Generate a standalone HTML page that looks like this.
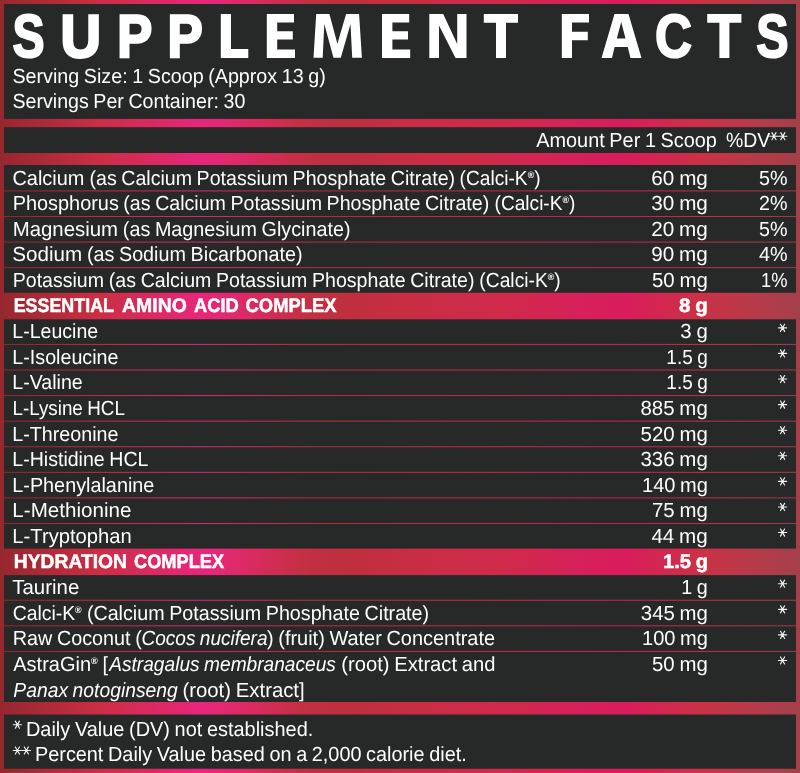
<!DOCTYPE html><html><head><meta charset="utf-8"><title>Supplement Facts</title><style>

html,body{margin:0;padding:0;}
body{width:800px;height:773px;overflow:hidden;background:#272929;position:relative;font-family:"Liberation Sans", sans-serif;color:#fff;}
.t{position:absolute;white-space:nowrap;line-height:1;transform-origin:0 0;word-spacing:-0.9px;text-rendering:geometricPrecision;}
.b{font-weight:bold;}
.reg{font-size:0.46em;font-weight:bold;position:relative;top:-0.72em;}
svg{position:absolute;left:0;top:0;}
#txt{position:absolute;left:0;top:0;width:800px;height:773px;will-change:transform;}

</style></head><body>
<svg width="800" height="773" viewBox="0 0 800 773"><defs><linearGradient id="g" x1="0" y1="0" x2="1" y2="0"><stop offset="0%" stop-color="#96272e"/><stop offset="5%" stop-color="#aa2a36"/><stop offset="12.5%" stop-color="#cc2e45"/><stop offset="25%" stop-color="#e8267b"/><stop offset="28%" stop-color="#e22972"/><stop offset="31%" stop-color="#db2a64"/><stop offset="34%" stop-color="#d22c56"/><stop offset="37%" stop-color="#c72f47"/><stop offset="39.5%" stop-color="#c03040"/><stop offset="44%" stop-color="#bf2f3e"/><stop offset="50%" stop-color="#c72e42"/><stop offset="62.5%" stop-color="#cf2a4a"/><stop offset="72%" stop-color="#d6215a"/><stop offset="78%" stop-color="#da1c5c"/><stop offset="87.5%" stop-color="#cb3145"/><stop offset="94%" stop-color="#b83a49"/><stop offset="100%" stop-color="#a3404a"/></linearGradient></defs>
<rect x="0" y="0" width="800" height="773" fill="url(#g)"/>
<rect x="4" y="4.00" width="792" height="114.90" fill="#272929"/>
<rect x="4" y="127.20" width="792" height="25.80" fill="#272929"/>
<rect x="4" y="165.00" width="792" height="25.43" fill="#272929"/>
<rect x="4" y="191.38" width="792" height="24.63" fill="#272929"/>
<rect x="4" y="216.96" width="792" height="24.63" fill="#272929"/>
<rect x="4" y="242.54" width="792" height="24.63" fill="#272929"/>
<rect x="4" y="268.13" width="792" height="24.63" fill="#272929"/>
<rect x="4" y="319.30" width="792" height="24.63" fill="#272929"/>
<rect x="4" y="344.88" width="792" height="24.63" fill="#272929"/>
<rect x="4" y="370.46" width="792" height="24.63" fill="#272929"/>
<rect x="4" y="396.05" width="792" height="24.63" fill="#272929"/>
<rect x="4" y="421.63" width="792" height="24.63" fill="#272929"/>
<rect x="4" y="447.22" width="792" height="24.63" fill="#272929"/>
<rect x="4" y="472.80" width="792" height="24.63" fill="#272929"/>
<rect x="4" y="498.38" width="792" height="24.63" fill="#272929"/>
<rect x="4" y="523.97" width="792" height="24.63" fill="#272929"/>
<rect x="4" y="575.13" width="792" height="24.63" fill="#272929"/>
<rect x="4" y="600.72" width="792" height="24.63" fill="#272929"/>
<rect x="4" y="626.30" width="792" height="24.63" fill="#272929"/>
<rect x="4" y="651.89" width="792" height="50.11" fill="#272929"/>
<rect x="4" y="714.50" width="792" height="54.20" fill="#272929"/>
<path d="M220.8 14H231V49H248.3V58H220.8ZM266.8 14H294.0V22.5H277.2V31.3H292.8V39.5H277.2V49.5H295.0V58H266.8ZM382.0 14H409.2V22.5H392.4V31.3H408.0V39.5H392.4V49.5H410.2V58H382.0ZM316.2 14.1H329.4L337.4 43.8L346.1 14.1H359.1L361.9 57.8H352.2L350.5 23.9L340.8 57.8H333.5L324.3 23.9L322.7 57.8H313.5ZM429.3 14H443.2L457.2 44V14H466.5V58H455.5L439 25.5V58H429.3ZM483.8 14H518.0V22.8H506.0V58H496.0V22.8H483.8ZM707.2 14H741.4000000000001V22.8H729.4000000000001V58H719.4000000000001V22.8H707.2ZM561.8 14H589V22.5H572V31.8H587.8V40.2H572V58H561.8ZM614.5 14H628.5L641.5 58H630.5L627.7 47H614.6L612 58H601.5ZM616.8 38.5H625.5L621.2 22Z" fill="#fff" fill-rule="evenodd"/>
<path d="M769.90 136.20h8.2M771.95 132.65l4.1 7.1M776.05 132.65l-4.1 7.1M778.70 136.20h8.2M780.75 132.65l4.1 7.1M784.85 132.65l-4.1 7.1M778.45 327.86h8.2M780.50 324.31l4.1 7.1M784.60 324.31l-4.1 7.1M778.45 353.44h8.2M780.50 349.89l4.1 7.1M784.60 349.89l-4.1 7.1M778.45 379.03h8.2M780.50 375.48l4.1 7.1M784.60 375.48l-4.1 7.1M778.45 404.62h8.2M780.50 401.06l4.1 7.1M784.60 401.06l-4.1 7.1M778.45 430.20h8.2M780.50 426.65l4.1 7.1M784.60 426.65l-4.1 7.1M778.45 455.79h8.2M780.50 452.24l4.1 7.1M784.60 452.24l-4.1 7.1M778.45 481.37h8.2M780.50 477.82l4.1 7.1M784.60 477.82l-4.1 7.1M778.45 506.95h8.2M780.50 503.40l4.1 7.1M784.60 503.40l-4.1 7.1M778.45 532.54h8.2M780.50 528.99l4.1 7.1M784.60 528.99l-4.1 7.1M778.45 583.71h8.2M780.50 580.16l4.1 7.1M784.60 580.16l-4.1 7.1M778.45 609.30h8.2M780.50 605.75l4.1 7.1M784.60 605.75l-4.1 7.1M778.45 634.88h8.2M780.50 631.33l4.1 7.1M784.60 631.33l-4.1 7.1M778.45 660.47h8.2M780.50 656.92l4.1 7.1M784.60 656.92l-4.1 7.1M13.30 724.70h8.2M15.35 721.15l4.1 7.1M19.45 721.15l-4.1 7.1M13.30 750.50h8.2M15.35 746.95l4.1 7.1M19.45 746.95l-4.1 7.1M22.25 750.50h8.2M24.30 746.95l4.1 7.1M28.40 746.95l-4.1 7.1" stroke="#f4f4f4" stroke-width="1.15" stroke-linecap="round" fill="none"/>
</svg>
<div id="txt">
<div class="t b" style="left:12px;top:6px;font-size:61px;-webkit-text-stroke:2px #fff;transform:translate(0.55px,0.00px) scaleX(0.7886)">S</div>
<div class="t b" style="left:60px;top:6px;font-size:60.2px;-webkit-text-stroke:2.6px #fff;transform:translate(0.52px,0.69px) scaleX(0.9331)">U</div>
<div class="t b" style="left:117px;top:6px;font-size:60.2px;-webkit-text-stroke:2.6px #fff;transform:translate(0.18px,0.69px) scaleX(0.8704)">P</div>
<div class="t b" style="left:167px;top:6px;font-size:60.2px;-webkit-text-stroke:2.6px #fff;transform:translate(0.51px,0.69px) scaleX(0.8758)">P</div>
<div class="t b" style="left:654px;top:6px;font-size:61px;-webkit-text-stroke:2px #fff;transform:translate(0.88px,0.00px) scaleX(0.8386)">C</div>
<div class="t b" style="left:756px;top:6px;font-size:61px;-webkit-text-stroke:2px #fff;transform:translate(0.22px,0.00px) scaleX(0.7940)">S</div>
<div class="t" style="left:12px;top:66px;font-size:20.5px;transform:translate(0.48px,0.60px) scaleX(0.9604)">Serving Size: 1 Scoop (Approx 13 g)</div>
<div class="t" style="left:12px;top:92px;font-size:20.5px;transform:translate(0.48px,0.10px) scaleX(0.9564)">Servings Per Container: 30</div>
<div class="t" style="left:536px;top:130px;font-size:20.5px;transform:translate(0.30px,0.80px) scaleX(0.9684)">Amount Per 1 Scoop</div>
<div class="t" style="left:726px;top:130px;font-size:20.5px;transform:translate(0.04px,0.80px) scaleX(0.9469)">%DV</div>
<div class="t" style="left:12px;top:168px;font-size:20.5px;transform:translate(0.46px,0.65px) scaleX(0.9719)">Calcium</div>
<div class="t" style="left:89px;top:168px;font-size:20.5px;transform:translate(0.48px,0.65px) scaleX(0.9554)">(as Calcium Potassium Phosphate Citrate)</div>
<div class="t" style="left:459px;top:168px;font-size:20.5px;transform:translate(0.57px,0.65px) scaleX(0.9339)">(Calci-K<span class="reg">®</span>)</div>
<div class="t" style="left:12px;top:194px;font-size:20.5px;transform:translate(0.73px,0.24px) scaleX(0.9702)">Phosphorus</div>
<div class="t" style="left:123px;top:194px;font-size:20.5px;transform:translate(0.31px,0.24px) scaleX(0.9562)">(as Calcium Potassium Phosphate Citrate)</div>
<div class="t" style="left:494px;top:194px;font-size:20.5px;transform:translate(0.58px,0.24px) scaleX(0.9313)">(Calci-K<span class="reg">®</span>)</div>
<div class="t" style="left:12px;top:219px;font-size:20.5px;transform:translate(0.65px,0.82px) scaleX(0.9943)">Magnesium</div>
<div class="t" style="left:122px;top:219px;font-size:20.5px;transform:translate(0.83px,0.82px) scaleX(0.9633)">(as Magnesium Glycinate)</div>
<div class="t" style="left:12px;top:245px;font-size:20.5px;transform:translate(0.25px,0.40px) scaleX(1.0041)">Sodium</div>
<div class="t" style="left:86px;top:245px;font-size:20.5px;transform:translate(0.88px,0.40px) scaleX(0.9638)">(as Sodium Bicarbonate)</div>
<div class="t" style="left:12px;top:270px;font-size:20.5px;transform:translate(0.79px,0.99px) scaleX(0.9522)">Potassium</div>
<div class="t" style="left:108px;top:270px;font-size:20.5px;transform:translate(0.84px,0.99px) scaleX(0.9554)">(as Calcium Potassium Phosphate Citrate)</div>
<div class="t" style="left:479px;top:270px;font-size:20.5px;transform:translate(0.35px,0.99px) scaleX(0.9386)">(Calci-K<span class="reg">®</span>)</div>
<div class="t" style="left:12px;top:322px;font-size:20.5px;transform:translate(0.33px,0.16px) scaleX(0.9536)">L-Leucine</div>
<div class="t" style="left:12px;top:347px;font-size:20.5px;transform:translate(0.30px,0.75px) scaleX(0.9608)">L-Isoleucine</div>
<div class="t" style="left:12px;top:373px;font-size:20.5px;transform:translate(0.33px,0.33px) scaleX(0.9546)">L-Valine</div>
<div class="t" style="left:12px;top:398px;font-size:20.5px;transform:translate(0.44px,0.92px) scaleX(0.9175)">L-Lysine HCL</div>
<div class="t" style="left:12px;top:424px;font-size:20.5px;transform:translate(0.30px,0.50px) scaleX(0.9608)">L-Threonine</div>
<div class="t" style="left:12px;top:450px;font-size:20.5px;transform:translate(0.33px,0.09px) scaleX(0.9537)">L-Histidine HCL</div>
<div class="t" style="left:12px;top:475px;font-size:20.5px;transform:translate(0.28px,0.67px) scaleX(0.9661)">L-Phenylalanine</div>
<div class="t" style="left:12px;top:501px;font-size:20.5px;transform:translate(0.33px,0.25px) scaleX(1.0043)">L-Methionine</div>
<div class="t" style="left:12px;top:526px;font-size:20.5px;transform:translate(0.36px,0.84px) scaleX(0.9860)">L-Tryptophan</div>
<div class="t" style="left:12px;top:578px;font-size:20.5px;transform:translate(0.27px,0.01px) scaleX(0.9959)">Taurine</div>
<div class="t" style="left:12px;top:603px;font-size:20.5px;transform:translate(0.63px,0.60px) scaleX(0.9454)">Calci-K<span class="reg">®</span></div>
<div class="t" style="left:86px;top:603px;font-size:20.5px;transform:translate(0.88px,0.60px) scaleX(0.9608)">(Calcium Potassium Phosphate Citrate)</div>
<div class="t" style="left:12px;top:629px;font-size:20.5px;transform:translate(0.72px,0.18px) scaleX(0.9642)">Raw Coconut (</div>
<div class="t" style="left:141px;top:629px;font-size:20.5px;transform:translate(0.45px,0.18px) scaleX(0.9283)"><i>Cocos nucifera</i></div>
<div class="t" style="left:267px;top:629px;font-size:20.5px;transform:translate(0.01px,0.18px) scaleX(0.9717)">) (fruit) Water Concentrate</div>
<div class="t" style="left:13px;top:654px;font-size:20.5px;transform:translate(0.29px,0.76px) scaleX(0.9746)">AstraGin<span class="reg">®</span> [</div>
<div class="t" style="left:109px;top:654px;font-size:20.5px;transform:translate(0.21px,0.76px) scaleX(0.9331)"><i>Astragalus membranaceus</i></div>
<div class="t" style="left:341px;top:654px;font-size:20.5px;transform:translate(0.35px,0.76px) scaleX(0.9839)">(root) Extract and</div>
<div class="t" style="left:13px;top:680px;font-size:20.5px;transform:translate(0.36px,0.90px) scaleX(0.9416)"><i>Panax notoginseng</i></div>
<div class="t" style="left:182px;top:680px;font-size:20.5px;transform:translate(0.47px,0.90px) scaleX(0.9912)">(root) Extract]</div>
<div class="t b" style="left:13px;top:297px;font-size:19.5px;-webkit-text-stroke:0.5px #fff;transform:translate(0.68px,0.04px) scaleX(0.9166)">ESSENTIAL</div>
<div class="t b" style="left:122px;top:297px;font-size:19.5px;-webkit-text-stroke:0.5px #fff;transform:translate(0.11px,0.04px) scaleX(0.9945)">AMINO</div>
<div class="t b" style="left:194px;top:297px;font-size:19.5px;-webkit-text-stroke:0.5px #fff;transform:translate(0.04px,0.04px) scaleX(0.9403)">ACID</div>
<div class="t b" style="left:245px;top:297px;font-size:19.5px;-webkit-text-stroke:0.5px #fff;transform:translate(0.60px,0.04px) scaleX(0.9417)">COMPLEX</div>
<div class="t b" style="left:13px;top:552px;font-size:19.5px;-webkit-text-stroke:0.5px #fff;transform:translate(0.85px,0.94px) scaleX(0.9878)">HYDRATION</div>
<div class="t b" style="left:133px;top:552px;font-size:19.5px;-webkit-text-stroke:0.5px #fff;transform:translate(0.98px,0.94px) scaleX(0.9346)">COMPLEX</div>
<div class="t" style="left:651px;top:168px;font-size:20.5px;transform:translate(0.33px,0.65px) scaleX(1.0080)">60 mg</div>
<div class="t" style="left:651px;top:194px;font-size:20.5px;transform:translate(0.34px,0.24px) scaleX(1.0077)">30 mg</div>
<div class="t" style="left:651px;top:219px;font-size:20.5px;transform:translate(0.26px,0.82px) scaleX(1.0077)">20 mg</div>
<div class="t" style="left:651px;top:245px;font-size:20.5px;transform:translate(0.34px,0.40px) scaleX(1.0065)">90 mg</div>
<div class="t" style="left:651px;top:270px;font-size:20.5px;transform:translate(0.98px,0.99px) scaleX(0.9947)">50 mg</div>
<div class="t" style="left:680px;top:322px;font-size:20.5px;transform:translate(0.35px,0.16px) scaleX(0.9936)">3 g</div>
<div class="t" style="left:666px;top:347px;font-size:20.5px;transform:translate(0.33px,0.75px) scaleX(0.9251)">1.5 g</div>
<div class="t" style="left:666px;top:373px;font-size:20.5px;transform:translate(0.33px,0.33px) scaleX(0.9251)">1.5 g</div>
<div class="t" style="left:640px;top:398px;font-size:20.5px;transform:translate(0.47px,0.92px) scaleX(0.9973)">885 mg</div>
<div class="t" style="left:640px;top:424px;font-size:20.5px;transform:translate(0.57px,0.50px) scaleX(0.9953)">520 mg</div>
<div class="t" style="left:640px;top:450px;font-size:20.5px;transform:translate(0.42px,0.09px) scaleX(0.9986)">336 mg</div>
<div class="t" style="left:641px;top:475px;font-size:20.5px;transform:translate(1.00px,0.67px) scaleX(0.9765)">140 mg</div>
<div class="t" style="left:652px;top:501px;font-size:20.5px;transform:translate(0.03px,0.25px) scaleX(0.9938)">75 mg</div>
<div class="t" style="left:651px;top:526px;font-size:20.5px;transform:translate(0.39px,0.84px) scaleX(1.0049)">44 mg</div>
<div class="t" style="left:681px;top:578px;font-size:20.5px;transform:translate(0.23px,0.01px) scaleX(0.9619)">1 g</div>
<div class="t" style="left:640px;top:603px;font-size:20.5px;transform:translate(0.82px,0.60px) scaleX(0.9928)">345 mg</div>
<div class="t" style="left:641px;top:629px;font-size:20.5px;transform:translate(1.00px,0.18px) scaleX(0.9765)">100 mg</div>
<div class="t" style="left:651px;top:654px;font-size:20.5px;transform:translate(0.98px,0.76px) scaleX(0.9947)">50 mg</div>
<div class="t b" style="left:678px;top:297px;font-size:19.5px;-webkit-text-stroke:0.5px #fff;transform:translate(0.98px,0.04px) scaleX(1.0533)">8 g</div>
<div class="t b" style="left:662px;top:552px;font-size:19.5px;-webkit-text-stroke:0.5px #fff;transform:translate(0.99px,0.94px) scaleX(1.0357)">1.5 g</div>
<div class="t" style="left:758px;top:168px;font-size:20.5px;transform:translate(0.89px,0.65px) scaleX(0.9643)">5%</div>
<div class="t" style="left:759px;top:194px;font-size:20.5px;transform:translate(0.07px,0.24px) scaleX(0.9614)">2%</div>
<div class="t" style="left:758px;top:219px;font-size:20.5px;transform:translate(0.89px,0.82px) scaleX(0.9643)">5%</div>
<div class="t" style="left:758px;top:245px;font-size:20.5px;transform:translate(0.91px,0.40px) scaleX(0.9652)">4%</div>
<div class="t" style="left:760px;top:270px;font-size:20.5px;transform:translate(0.96px,0.99px) scaleX(0.8926)">1%</div>
<div class="t" style="left:25px;top:719px;font-size:20.5px;transform:translate(0.99px,0.50px) scaleX(0.9715)">Daily Value (DV) not established.</div>
<div class="t" style="left:35px;top:744px;font-size:20.5px;transform:translate(0.00px,0.80px) scaleX(0.9680)">Percent Daily Value based on a 2,000 calorie diet.</div>
</div>
</body></html>
